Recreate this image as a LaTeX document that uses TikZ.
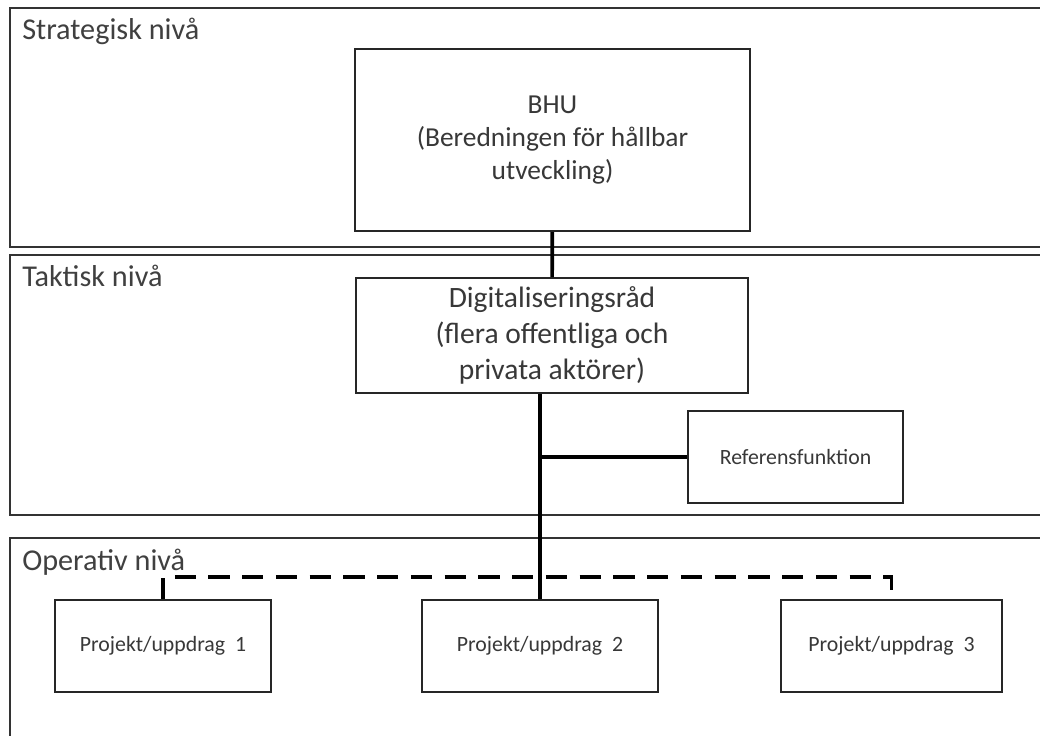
\documentclass[tikz,border=0pt]{standalone}
\usepackage{fontspec}
\setmainfont{Carlito}
\usepackage{tikz}
\usetikzlibrary{positioning}
\tikzset{
x=0.025cm, y=-0.025cm, % one unit is one pixel of the sketch
level/.style={draw=black!80, line width=1.6pt}, % the wide frames of each level
unit/.style={draw=black!85, line width=1.4pt, align=center, text=black!78}, % the boxes
small/.style={unit, font=\fontsize{15.5}{18}\selectfont, minimum height=2.3cm}, % project boxes
link/.style={line width=2.6pt}, % solid connectors
dashlink/.style={line width=2.6pt, dash pattern=on 15pt off 9pt}, % the dashed connector
levelname/.style={anchor=base west, inner sep=0pt, text=black!75, font=\fontsize{21.5}{24}\selectfont},
}

\begin{document}
\begin{tikzpicture}
    \useasboundingbox (0,0) rectangle (1040,736);
    \fill[white] (0,0) rectangle (1040,736);
    % levels
    \draw[level] (10,8) rectangle (1060,247);
    \draw[level] (10,255) rectangle (1060,515);
    \draw[level] (10,538) rectangle (1060,760);
    \node[levelname] (strat) at (22,40) {Strategisk nivå};
    \node[levelname] (takt) at (22,286) {Taktisk nivå};
    \node[levelname] (oper) at (22,570) {Operativ nivå};
    % boxes
    \node[unit, minimum width=9.875cm, minimum height=4.55cm, font=\fontsize{19.5}{23.5}\selectfont] (bhu) at (552.5,140)
        {BHU\\(Beredningen för hållbar\\utveckling)};
    \node[unit, minimum width=9.8cm, minimum height=2.875cm, font=\fontsize{21}{25.5}\selectfont] (dig) at (552,335.5)
        {Digitaliseringsråd\\(flera offentliga och\\privata aktörer)};
    \node[small, minimum width=5.375cm] (ref) at (795.5,457) {Referensfunktion};
    \node[small, minimum width=5.4cm] (p1) at (163,646) {Projekt/uppdrag\ \ 1};
    \node[small, minimum width=5.875cm] (p2) at (540,646) {Projekt/uppdrag\ \ 2};
    \node[small, minimum width=5.525cm] (p3) at (891.5,646) {Projekt/uppdrag\ \ 3};
    % connectors
    \draw[link] (bhu) -- (dig);
    \draw[link] (dig.south -| p2.north) -- (p2.north);
    \draw[link] (ref.west -| p2.north) -- (ref.west);
    \draw[dashlink] (p1.north) -- ++(0,-22) -| (p3.north);
\end{tikzpicture}
\end{document}
